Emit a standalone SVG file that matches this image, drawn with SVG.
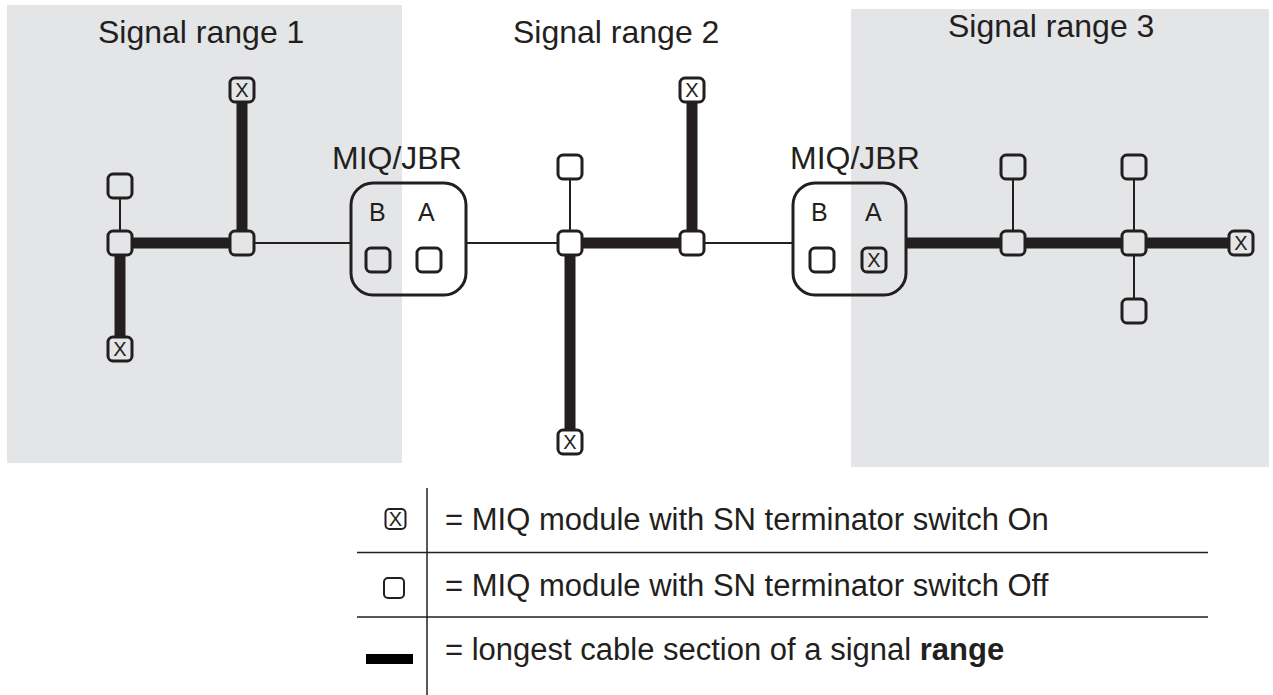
<svg xmlns="http://www.w3.org/2000/svg" width="1273" height="695" viewBox="0 0 1273 695">
<style>
.bg{fill:#e4e5e7}
.t{font-family:"Liberation Sans",Arial,sans-serif;fill:#231f20}
.n{fill:none;stroke:#231f20;stroke-width:3}
.thick{stroke:#231f20;stroke-width:11;fill:none}
.thin{stroke:#231f20;stroke-width:2;fill:none}
.x{font-family:"Liberation Sans",Arial,sans-serif;font-size:20px;fill:#231f20;text-anchor:middle}
.leg{stroke:#231f20;stroke-width:1.5}
</style>
<defs>
<rect id="nd" x="-12" y="-12" width="24" height="24" rx="5" class="n"/>
<g id="nx"><use href="#nd"/><text class="x" x="0" y="7.2">X</text></g>
</defs>
<rect class="bg" x="7" y="5" width="395" height="458"/>
<rect class="bg" x="851" y="9" width="418" height="458"/>
<text class="t" x="98" y="43" font-size="32">Signal range 1</text>
<text class="t" x="513" y="43" font-size="32">Signal range 2</text>
<text class="t" x="948" y="37" font-size="32">Signal range 3</text>
<g id="connectors">
<line class="thin" x1="120" y1="198" x2="120" y2="231"/>
<line class="thick" x1="120" y1="255" x2="120" y2="337"/>
<line class="thick" x1="132" y1="243" x2="230" y2="243"/>
<line class="thick" x1="242" y1="101" x2="242" y2="231"/>
<line class="thin" x1="254" y1="243" x2="351" y2="243"/>
<line class="thin" x1="466" y1="243" x2="558" y2="243"/>
<line class="thin" x1="570" y1="179" x2="570" y2="231"/>
<line class="thick" x1="570" y1="255" x2="570" y2="431"/>
<line class="thick" x1="582" y1="243" x2="680" y2="243"/>
<line class="thick" x1="692" y1="101" x2="692" y2="231"/>
<line class="thin" x1="704" y1="243" x2="793" y2="243"/>
<line class="thick" x1="906" y1="243" x2="1001" y2="243"/>
<line class="thick" x1="1025" y1="243" x2="1122" y2="243"/>
<line class="thick" x1="1146" y1="243" x2="1229" y2="243"/>
<line class="thin" x1="1013" y1="179" x2="1013" y2="231"/>
<line class="thin" x1="1134" y1="179" x2="1134" y2="231"/>
<line class="thin" x1="1134" y1="255" x2="1134" y2="299"/>
</g>
<g id="n1"><use href="#nd" x="120" y="186"/></g>
<g id="n2"><use href="#nd" x="120" y="243"/></g>
<g id="n3"><use href="#nx" x="120" y="349"/></g>
<g id="n4"><use href="#nd" x="242" y="243"/></g>
<g id="n5"><use href="#nx" x="242" y="90"/></g>
<g id="jbr1">
<text class="t" x="332" y="169" font-size="32">MIQ/JBR</text>
<rect x="351" y="183" width="115" height="112" rx="22" class="n"/>
<text class="t" x="369" y="221" font-size="25">B</text>
<text class="t" x="418" y="221" font-size="25">A</text>
<use href="#nd" x="378" y="260"/>
<use href="#nd" x="429" y="260"/>
</g>
<g id="n6"><use href="#nd" x="570" y="167"/></g>
<g id="n7"><use href="#nd" x="570" y="243"/></g>
<g id="n8"><use href="#nx" x="570" y="442"/></g>
<g id="n9"><use href="#nd" x="692" y="243"/></g>
<g id="n10"><use href="#nx" x="692" y="90"/></g>
<g id="jbr2">
<text class="t" x="790" y="169" font-size="32">MIQ/JBR</text>
<rect x="793" y="183" width="113" height="112" rx="22" class="n"/>
<text class="t" x="811" y="221" font-size="25">B</text>
<text class="t" x="865" y="221" font-size="25">A</text>
<use href="#nd" x="822" y="260"/>
<use href="#nx" x="874" y="260"/>
</g>
<g id="n11"><use href="#nd" x="1013" y="167"/></g>
<g id="n12"><use href="#nd" x="1013" y="243"/></g>
<g id="n13"><use href="#nd" x="1134" y="167"/></g>
<g id="n14"><use href="#nd" x="1134" y="243"/></g>
<g id="n15"><use href="#nd" x="1134" y="311"/></g>
<g id="n16"><use href="#nx" x="1241" y="243"/></g>
<g id="legend">
<line class="leg" x1="427" y1="488" x2="427" y2="695"/>
<line class="leg" x1="357" y1="552.5" x2="1208" y2="552.5"/>
<line class="leg" x1="357" y1="617" x2="1208" y2="617"/>
<rect x="385.5" y="509" width="20" height="20" rx="4" fill="none" stroke="#231f20" stroke-width="2"/>
<text class="x" x="395.5" y="525.5" font-size="18">X</text>
<rect x="384" y="578" width="20" height="20" rx="4" fill="none" stroke="#231f20" stroke-width="2"/>
<rect x="366" y="654" width="47" height="10" fill="#000"/>
<text class="t" x="445" y="530" font-size="31">= MIQ module with SN terminator switch On</text>
<text class="t" x="445" y="596" font-size="31">= MIQ module with SN terminator switch Off</text>
<text class="t" x="445" y="660" font-size="31">= longest cable section of a signal <tspan font-weight="bold">range</tspan></text>
</g>
</svg>
